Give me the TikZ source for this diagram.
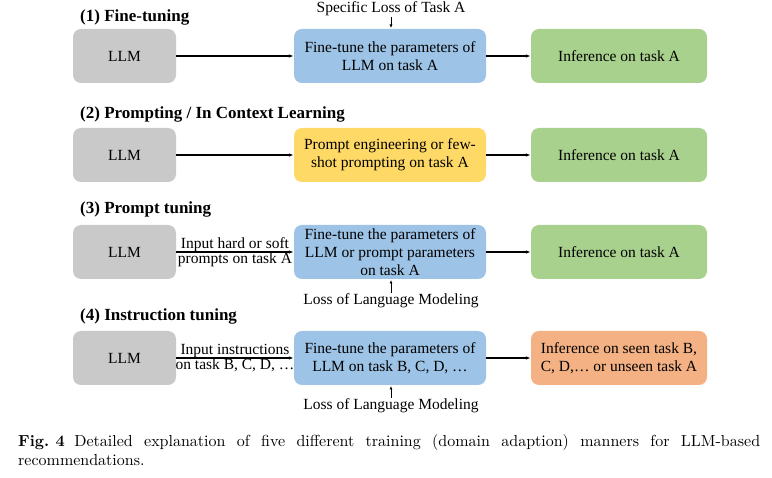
\documentclass[tikz,border=0pt]{standalone}
\usepackage{graphicx}
\usepackage{fontspec}
\newfontfamily\tnr{Liberation Serif}
\usetikzlibrary{arrows.meta}
\definecolor{cgray}{HTML}{C9C9C9}
\definecolor{cblue}{HTML}{9DC3E6}
\definecolor{cyellow}{HTML}{FFD966}
\definecolor{cgreen}{HTML}{A9D18E}
\definecolor{corange}{HTML}{F4B183}
\begin{document}
\begin{tikzpicture}[x=1pt,y=-1pt,
  box/.style={rounded corners=8pt, minimum height=54pt, inner sep=0pt, align=center,
              font=\tnr\fontsize{15.5}{18}\selectfont},
  llmbox/.style={box, fill=cgray, minimum width=103pt},
  midbox/.style={box, minimum width=192pt},
  endbox/.style={box, minimum width=176pt},
  head/.style={anchor=base west, inner sep=0pt, font=\tnr\bfseries\fontsize{17}{20}\selectfont},
  lbl/.style={inner sep=1pt, font=\tnr\fontsize{15.5}{18}\selectfont},
  arr/.style={line width=1.2pt, -{Latex[length=5pt,width=3.5pt]}},
  sarr/.style={line width=0.9pt, -{Latex[length=3.5pt,width=3pt]}}
]
\useasboundingbox (0,0) rectangle (772,478);

% Row 1
\node[head] (h1) at (80,22) {(1) Fine-tuning};
\node[llmbox] (llm1) at (124.5,56) {LLM};
\node[midbox, fill=cblue] (ft1) at (390,56) {Fine-tune the parameters of\\LLM on task A};
\node[endbox, fill=cgreen] (inf1) at (619,56) {Inference on task A};
\node[lbl, anchor=base] (loss1) at (391,13) {Specific Loss of Task A};
\coordinate (t1) at (391,28);
\draw[arr] (llm1) -- (ft1);
\draw[arr] (ft1) -- (inf1);
\draw[sarr] (loss1.south) -- (t1);

% Row 2
\node[head] (h2) at (80,119) {(2) Prompting / In Context Learning};
\node[llmbox] (llm2) at (124.5,155) {LLM};
\node[midbox, fill=cyellow] (pe2) at (390,155) {Prompt engineering or few-\\shot prompting on task A};
\node[endbox, fill=cgreen] (inf2) at (619,155) {Inference on task A};
\draw[arr] (llm2) -- (pe2);
\draw[arr] (pe2) -- (inf2);

% Row 3
\node[head] (h3) at (80,214) {(3) Prompt tuning};
\node[llmbox] (llm3) at (124.5,252) {LLM};
\node[midbox, fill=cblue] (ft3) at (390,252) {Fine-tune the parameters of\\LLM or prompt parameters\\on task A};
\node[endbox, fill=cgreen] (inf3) at (619,252) {Inference on task A};
\node[lbl, anchor=base] (loss3) at (391,305) {Loss of Language Modeling};
\coordinate (b3) at (391,280);
\draw[arr] (llm3) -- (ft3)
  node[lbl, midway, above, yshift=-1pt] (in3a) {Input hard or soft}
  node[lbl, midway, below, yshift=1pt] (in3b) {prompts on task A};
\draw[arr] (ft3) -- (inf3);
\draw[sarr] (loss3.north) -- (b3);

% Row 4
\node[head] (h4) at (80,321) {(4) Instruction tuning};
\node[llmbox] (llm4) at (124.5,358) {LLM};
\node[midbox, fill=cblue] (ft4) at (390,358) {Fine-tune the parameters of\\LLM on task B, C, D, \dots};
\node[endbox, fill=corange] (inf4) at (619,358) {Inference on seen task B,\\C, D,\dots\ or unseen task A};
\node[lbl, anchor=base] (loss4) at (391,410) {Loss of Language Modeling};
\coordinate (b4) at (391,386);
\draw[arr] (llm4) -- (ft4)
  node[lbl, midway, above, yshift=-1pt] (in4a) {Input instructions}
  node[lbl, midway, below, yshift=1pt] (in4b) {on task B, C, D, \dots};
\draw[arr] (ft4) -- (inf4);
\draw[sarr] (loss4.north) -- (b4);

% Caption
\node[anchor=base west, inner sep=0pt] (cap) at (18,447)
  {\scalebox{1.6}{\parbox[t]{463.75pt}{\fontsize{10}{11.4}\selectfont\noindent\hyphenpenalty=10000\exhyphenpenalty=10000\emergencystretch=2em
  \textbf{Fig.\hspace{0.4em}4}\hspace{0.6em}Detailed explanation of five different training (domain adaption) manners for LLM-based \mbox{recommendations.}}}};
\end{tikzpicture}
\end{document}
